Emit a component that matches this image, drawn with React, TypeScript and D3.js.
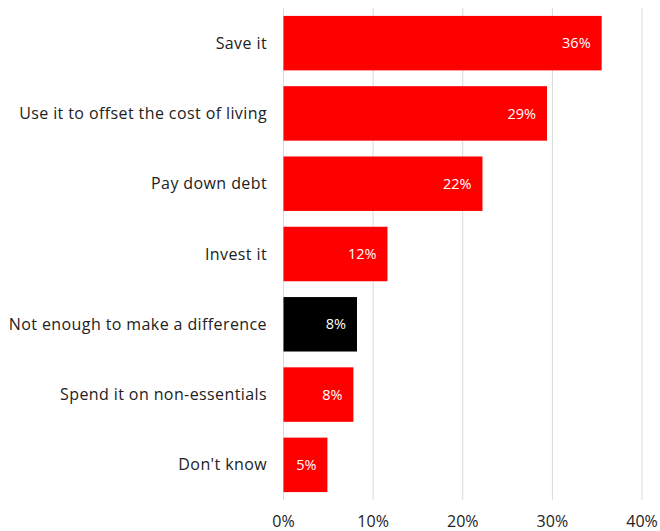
import React from "react";
import * as d3 from "d3";

const categories = [
  "Save it",
  "Use it to offset the cost of living",
  "Pay down debt",
  "Invest it",
  "Not enough to make a difference",
  "Spend it on non-essentials",
  "Don't know",
];
const values = [35.5, 29.4, 22.2, 11.6, 8.2, 7.8, 4.9];
const valueLabels = ["36%", "29%", "22%", "12%", "8%", "8%", "5%"];
const barColors = ["#ff0000", "#ff0000", "#ff0000", "#ff0000", "#000000", "#ff0000", "#ff0000"];
const ticks = [0, 10, 20, 30, 40];

const W = 660;
const H = 531;
const margin = { left: 283.5, right: 18, top: 8, bottom: 31 };
const FONT = "'Open Sans', sans-serif";

export default function App() {
  const x = d3.scaleLinear().domain([0, 40]).range([margin.left, W - margin.right]);
  const y = d3
    .scaleBand<string>()
    .domain(categories)
    .range([margin.top, H - margin.bottom])
    .paddingInner(0.225)
    .paddingOuter(0.1125);
  return (
    <svg
      width={W}
      height={H}
      style={{ position: "absolute", left: 0, top: 0, background: "#fff" }}
      fontFamily={FONT}
    >
      {ticks.map((t) => (
        <g key={t}>
          <line
            x1={x(t)}
            x2={x(t)}
            y1={margin.top}
            y2={H - margin.bottom}
            stroke="#d9d9d9"
            strokeWidth={1}
          />
          <text x={x(t)} y={527} textAnchor="middle" fontSize={16} fill="#222">
            {t}%
          </text>
        </g>
      ))}
      {categories.map((c, i) => {
        const yb = y(c)!;
        const bh = y.bandwidth();
        const cy = yb + bh / 2;
        return (
          <g key={c}>
            <rect x={x(0)} y={yb} width={x(values[i]) - x(0)} height={bh} fill={barColors[i]} />
            <text
              x={x(values[i]) - 11}
              y={cy}
              dy="0.35em"
              textAnchor="end"
              fontSize={14.5}
              fill="#fff"
            >
              {valueLabels[i]}
            </text>
            <text
              x={267}
              y={cy}
              dy="0.35em"
              textAnchor="end"
              fontSize={16}
              letterSpacing={0.4}
              fill="#222"
            >
              {c}
            </text>
          </g>
        );
      })}
    </svg>
  );
}
